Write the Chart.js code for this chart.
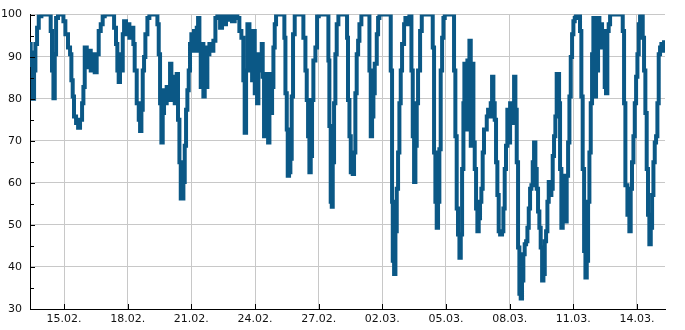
<!DOCTYPE html>
<html>
<head>
<meta charset="utf-8">
<script src="https://cdn.jsdelivr.net/npm/chart.js@4"></script>
<style>
  html, body { margin: 0; padding: 0; background: #fff; }
  #wrap { width: 685px; height: 330px; }
</style>
</head>
<body>
<div id="wrap"><canvas id="humChart"></canvas></div>
<script>
// hours counted from 13.02. 00:00
const hours = [
  9.5, 10.3, 11.1, 12.6, 14.1, 15.6, 17.5, 19.4, 22.4, 30.7, 32.9, 34.4, 36, 37.5, 39, 41.2, 45, 47.3, 49.5, 52.5,
  54.8, 56.3, 57.8, 59.3, 61.6, 63.9, 66.1, 68.4, 69.9, 71.4, 73.7, 75.9, 78.2, 80.4, 82.7, 84.9, 87.2, 89.5, 91.7, 94,
  102.3, 104.6, 106.8, 108.3, 109.8, 111.3, 112.9, 114.4, 115.9, 118.1, 120.4, 121.9, 124.2, 126.4, 127.9, 130.2, 132.5, 134, 135.5, 137,
  138.5, 140, 142.3, 144.5, 152.1, 153.6, 155.1, 156.6, 158.1, 159.6, 161.1, 162.6, 164.1, 165.6, 167.9, 169.4, 171.7, 173.2, 175.4, 176.9,
  178.5, 180, 181.5, 183, 184.5, 186, 187.5, 189, 190.5, 192, 193.5, 195, 196.6, 198.1, 199.6, 201.1, 202.6, 204.1, 205.6, 207.1,
  208.6, 210.1, 212.4, 214.6, 216.9, 219.2, 221.4, 224.5, 226.7, 229, 231.2, 233.5, 235.8, 238, 241, 244, 246.3, 248.6, 250.8, 252.3,
  253.9, 255.4, 257.7, 259.2, 260.7, 262.2, 263.7, 265.2, 266.3, 267.8, 269.7, 271.6, 272.7, 274.2, 275.8, 277.3, 278.8, 280.3, 281.8, 283.3,
  284.8, 286.3, 287.8, 296.1, 297.2, 298.4, 299.9, 301, 302.5, 304, 305.5, 307, 308.9, 317.2, 318.7, 321, 322.5, 324, 325.5, 327,
  328.5, 330, 332.3, 334.2, 336.1, 345.9, 347, 348.1, 349.6, 350.8, 351.9, 353.4, 354.9, 356.4, 358.3, 367, 368.1, 369.2, 370.8, 372.3,
  374.5, 376, 377.5, 379, 380.6, 382.1, 384.3, 392.2, 393.4, 394.9, 396.4, 397.9, 399.4, 401.7, 403.2, 404.7, 416.8, 417.5, 419, 419.8,
  421.3, 422.8, 424.3, 425.8, 427.3, 428.8, 430.3, 432.6, 434.1, 436.4, 438.6, 439.7, 440.9, 442.4, 443.9, 445.4, 446.9, 448.4, 450.7, 452.6,
  463.9, 465, 466.5, 468, 469.5, 471, 472.5, 474, 475.6, 477.1, 478.6, 487.5, 489.1, 490.6, 492.1, 493.6, 495.2, 496.7, 498.2, 499.7,
  500.8, 501.9, 503.1, 504.2, 505.3, 506.5, 508, 509.5, 511, 512.5, 514, 515.5, 517, 518.5, 520, 521.5, 523, 524.6, 526.1, 527.6,
  529.1, 530.6, 532.1, 533.6, 535.1, 536.6, 538.1, 539.6, 541.2, 543.4, 544.9, 546.4, 547.9, 549.4, 551, 552.5, 554, 555.5, 557, 558.5,
  560, 561.5, 563, 564.5, 566, 567.5, 569, 570.6, 572.1, 573.6, 575.1, 576.6, 578.1, 579.6, 581.1, 582.6, 584.1, 585.6, 587.1, 588.7,
  590.2, 591.7, 593.2, 594.7, 596.2, 597.7, 599.2, 600.7, 602.2, 603.7, 605.2, 606.7, 607.9, 609, 610.5, 612, 613.5, 615, 616.5, 618.1,
  619.6, 621.1, 622.6, 624.1, 625.6, 627.1, 630.1, 631.6, 633.1, 634.6, 636.2, 637.7, 639.2, 640.7, 642.2, 643.7, 645.2, 646.7, 647.5, 648.2,
  649.7, 650.5, 652, 653.5, 655, 656.5, 658, 659.5, 661, 662.5, 664, 665.6, 678.8, 679.9, 681.4, 682.9, 685.2, 687.4, 688.9, 690.4,
  692, 693.5, 695, 696.5, 698, 699.5, 701, 702.5, 704, 705.5, 707, 708.5, 710, 711.6, 713.1, 714.6, 716.1, 717.6, 719.1, 720.6,
  722.1, 723.6, 725.1, 726.6, 727.7
];

const humidity = [
  93, 88, 91, 80, 86.7, 93, 96.9, 99.6, 100, 100, 96.1, 86.7, 80.1, 90.6, 99.2, 100, 100, 98.4, 95.3, 92.2,
  90.6, 84.4, 80.5, 75.8, 74.2, 73.1, 75, 78.9, 82.8, 92.2, 87.5, 91.4, 86.7, 90.6, 86.3, 90.6, 96.1, 97.7, 99.6, 100,
  100, 96.9, 93, 86.7, 84, 90.6, 86.7, 95.3, 98.4, 95.3, 97.7, 94.5, 96.9, 93, 86.7, 78.9, 75, 72.3, 77.4, 86.7,
  89.9, 95.3, 99.2, 100, 100, 97.7, 90.6, 78.9, 69.6, 76.6, 82, 78.9, 82.8, 79.7, 88.3, 79.7, 85.2, 78.9, 85.9, 75,
  64.9, 56.3, 56.3, 60.2, 68.8, 77.4, 82, 86.7, 93, 95.3, 91.4, 96.1, 91.4, 96.9, 99.2, 93, 82.8, 93, 80.5, 92.2,
  82.8, 90.6, 93, 91.4, 93.8, 99.2, 100, 96.9, 100, 97.7, 100, 98.8, 100, 98.4, 100, 99.2, 96.1, 94.5, 84.4, 71.9,
  86.7, 97.7, 86.7, 95.3, 84.4, 96.1, 81.3, 89.9, 78.9, 90.6, 86.7, 93, 85.2, 71.1, 85.9, 71.1, 69.6, 85.9, 76.6, 82.8,
  92.2, 97.7, 100, 100, 94.5, 81.3, 72.7, 61.7, 62.5, 65.7, 80.5, 95.3, 100, 100, 94.5, 86.7, 79.7, 71.1, 62.5, 66.4,
  79.7, 89.1, 92.2, 99.6, 100, 100, 89.1, 73.5, 55.5, 54.3, 64.9, 78.9, 90.6, 97.7, 100, 100, 94.5, 79.7, 71.1, 62.5,
  62.1, 67.2, 81.3, 90.6, 93.8, 97.7, 100, 100, 86.7, 71.1, 75.8, 81.3, 88.3, 95.3, 99.2, 100, 100, 86.7, 55.5, 41.5,
  38.3, 48.5, 58.6, 67.2, 78.9, 86.7, 93, 97.7, 99.2, 97.7, 100, 100, 86.7, 71.1, 60.2, 68.8, 78.9, 86.7, 96.1, 100,
  100, 92.2, 67.2, 55.5, 49.3, 55.5, 68, 86.7, 94.5, 99.2, 100, 100, 86.7, 71.1, 53.9, 47.7, 42.2, 47.7, 63.3, 78.9,
  88.3, 72.7, 82.8, 89.1, 72.7, 93.8, 68.8, 88.3, 69.6, 63.3, 53.9, 48.5, 51.6, 55.5, 58.6, 67.2, 72.7, 72.7, 75.8, 77.4,
  75.8, 78.9, 85.2, 78.9, 75, 64.9, 57.1, 48.5, 47.7, 48.5, 53.9, 63.3, 68.8, 77.4, 69.6, 78.9, 74.2, 78.9, 85.2, 77.4,
  64.9, 44.6, 33.6, 32.5, 36.8, 43, 45.4, 46.1, 49.3, 53.9, 58.6, 59.4, 64.9, 69.6, 63.3, 58.6, 53.2, 49.3, 44.6, 36.8,
  38.3, 46.1, 48.5, 55.5, 60.2, 57.1, 58.6, 66.4, 71.1, 75.8, 85.9, 85.9, 78.9, 63.3, 49.3, 55.5, 61.7, 50.8, 61.7, 69.6,
  80.5, 89.9, 95.3, 98.4, 99.2, 100, 100, 96.1, 80.5, 63.3, 43.8, 37.5, 41.5, 55.5, 67.2, 78.9, 90.6, 99.2, 86.7, 80.5,
  97.7, 86.7, 99.2, 92.2, 97.7, 93, 96.1, 82.8, 81.3, 96.1, 97.7, 100, 100, 96.1, 78.9, 59.4, 52.4, 48.5, 58.6, 64.9,
  71.1, 78.9, 85.2, 90.6, 97.7, 99.6, 100, 94.5, 86.7, 76.6, 63.3, 52.4, 45.4, 49.3, 57.1, 64.9, 69.6, 71.1, 78.9, 90.6,
  92.2, 93, 91.4, 93.4, 92.2
];

// tick positions (hours from 13.02.) and their labels
const tickHours = [48, 120, 192, 264, 336, 408, 480, 552, 624, 696];
const tickLabels = ["15.02.", "18.02.", "21.02.", "24.02.", "27.02.", "02.03.", "05.03.", "08.03.", "11.03.", "14.03."];

const minorStep = 5;

Chart.defaults.font.family = "'DejaVu Sans', sans-serif";
Chart.defaults.font.size = 11;
Chart.defaults.color = "#111";

// kleine Striche nach innen, wie im Original
const innerTicks = {
  id: "innerTicks",
  afterDraw(chart) {
    const { ctx, chartArea: a, scales: { x, y } } = chart;
    ctx.save();
    ctx.strokeStyle = "#000";
    ctx.lineWidth = 1;
    ctx.beginPath();
    for (let v = y.min; v <= y.max; v += minorStep) {
      const py = Math.round(y.getPixelForValue(v)) + 0.5;
      const len = v % 10 ? 4 : 5;
      ctx.moveTo(a.left, py);
      ctx.lineTo(a.left + len, py);
    }
    x.ticks.forEach(t => {
      const px = Math.round(x.getPixelForValue(t.value)) + 0.5;
      ctx.moveTo(px, a.bottom);
      ctx.lineTo(px, a.bottom - 5);
    });
    ctx.stroke();
    ctx.restore();
  }
};

new Chart(document.getElementById("humChart"), {
  type: "line",
  data: {
    datasets: [{
      data: hours.map((h, i) => ({ x: h, y: humidity[i] })),
      borderColor: "#0b5886",
      borderWidth: 4,
      borderJoinStyle: "miter",
      stepped: true,
      pointRadius: 0,
      fill: false
    }]
  },
  options: {
    responsive: true,
    maintainAspectRatio: false,
    animation: false,
    layout: { padding: { top: 10, right: 20, left: 0, bottom: 0 } },
    plugins: { legend: { display: false }, tooltip: { enabled: false } },
    scales: {
      x: {
        type: "linear",
        min: hours[0],
        max: hours[hours.length - 1],
        afterBuildTicks: scale => {
          scale.ticks = tickHours.map(v => ({ value: v }));
        },
        afterFit: scale => { scale.height = 21; },
        ticks: {
          autoSkip: false,
          maxRotation: 0,
          padding: 4,
          callback: (value) => tickLabels[tickHours.indexOf(value)] || ""
        },
        grid: { color: "#c8c8c8", drawTicks: false },
        border: { display: true, color: "#000", width: 1 }
      },
      y: {
        min: 30,
        max: 100,
        afterFit: scale => { scale.width = 30; },
        ticks: { stepSize: 10, padding: 8 },
        grid: { color: "#c8c8c8", drawTicks: false },
        border: { display: true, color: "#000", width: 1 }
      }
    }
  },
  plugins: [innerTicks]
});
</script>
</body>
</html>
